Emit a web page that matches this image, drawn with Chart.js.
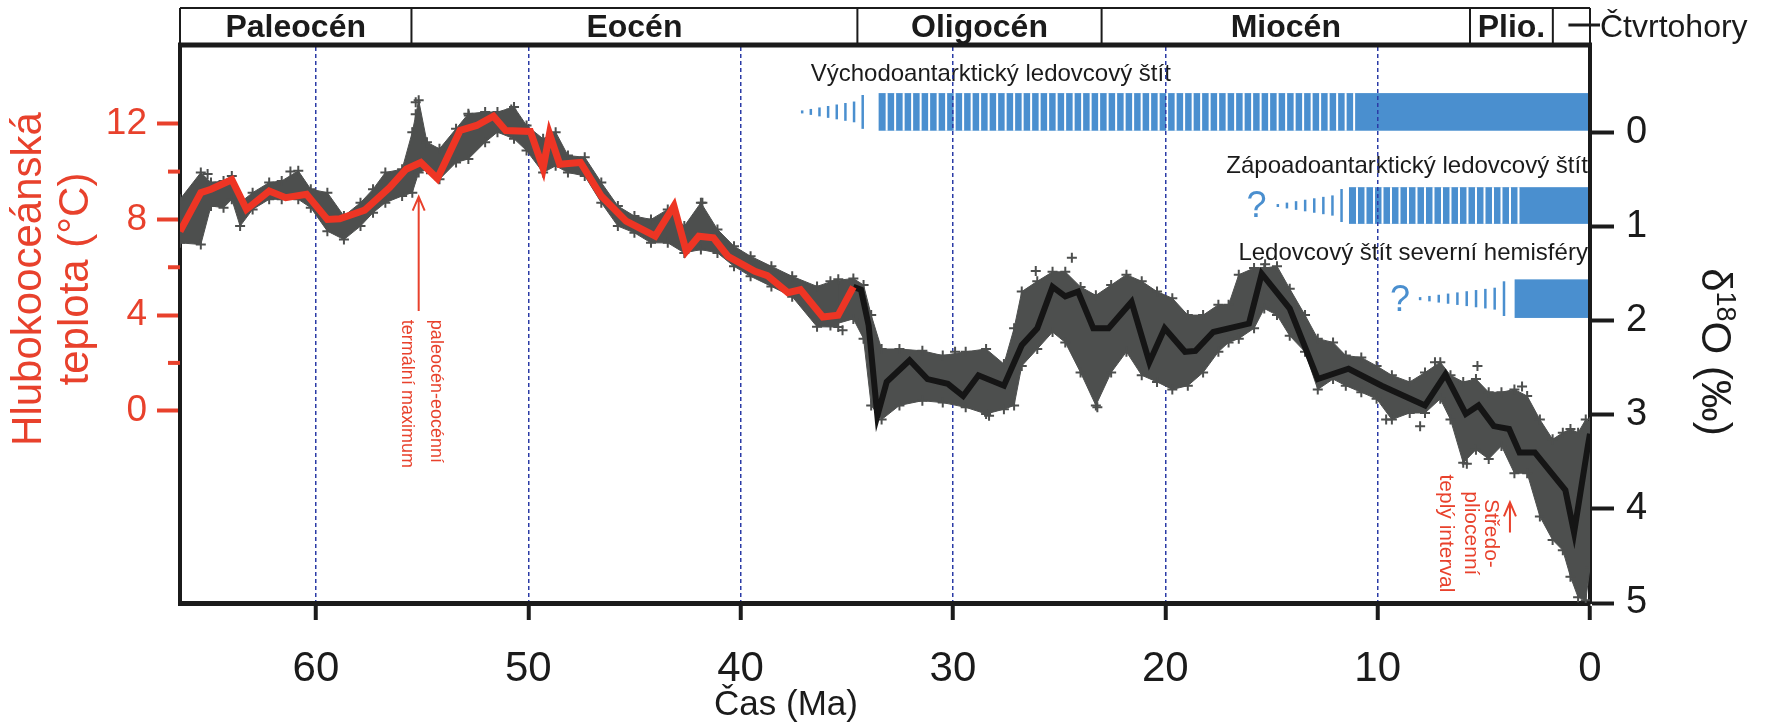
<!DOCTYPE html>
<html><head><meta charset="utf-8">
<script src="https://cdn.jsdelivr.net/npm/chart.js@4.4.0/dist/chart.umd.min.js"></script>
<style>html,body{margin:0;padding:0;background:#fff;overflow:hidden}</style>
</head><body>
<canvas id="c" width="1768" height="726"></canvas>
<script>
// ---------- data ----------
const xTicks = [0, 10, 20, 30, 40, 50, 60];
const tempTicks = [0, 2, 4, 6, 8, 10, 12];
const d18OTicks = [0, 1, 2, 3, 4, 5];

// red: deep-ocean temperature (°C), left axis
const redAge  = [66.4,65.42,64.94,63.96,63.27,62.2,61.42,60.44,59.46,58.88,57.7,56.53,55.75,55.06,54.28,53.21,52.43,51.64,51.06,49.9,49.3,49.0,48.52,47.54,46.56,45.39,44.02,43.14,42.56,41.97,41.28,40.6,39.33,38.74,37.77,37.18,36.13,35.41,34.69];
const redTemp = [7.5,9.12,9.26,9.66,8.42,9.19,8.91,9.05,8.0,8.03,8.39,9.33,10.1,10.38,9.71,11.72,11.93,12.32,11.72,11.68,10.13,11.58,10.31,10.38,8.98,7.93,7.3,8.56,6.67,7.3,7.23,6.46,5.83,5.65,4.94,5.06,3.92,3.99,5.18];

// black: smoothed δ18O (‰), right axis
const blackAge  = [34.69,34.33,33.97,33.56,33.12,32.04,31.2,30.24,29.52,28.8,27.6,26.76,26.03,25.31,24.71,24.11,23.39,22.67,21.59,20.75,20.03,19.07,18.58,17.74,16.06,15.46,14.14,12.82,11.37,9.81,7.77,6.81,5.85,5.25,4.53,3.81,3.32,2.6,1.16,0.75,0.1,0];
const blackD18O = [1.64,1.67,2.05,3.01,2.65,2.42,2.62,2.67,2.8,2.58,2.69,2.26,2.08,1.64,1.74,1.69,2.08,2.08,1.8,2.44,2.08,2.33,2.32,2.12,2.03,1.5,1.87,2.62,2.51,2.69,2.9,2.57,2.99,2.9,3.12,3.15,3.4,3.4,3.8,4.25,3.33,3.2];

// grey cloud of individual measurements: upper / lower edges
const grayEarlyAge = [66.4,65.42,64.94,64.35,63.96,63.57,62.98,62.2,61.61,60.83,60.24,59.46,58.68,57.9,57.31,56.73,55.94,55.46,55.16,54.77,54.18,53.4,52.82,52.03,51.45,50.67,50.08,49.3,48.71,48.13,47.34,46.56,45.78,45.0,44.22,43.43,42.65,41.87,41.09,40.31,39.53,38.55,37.57,36.4,35.4];
const grayEarlyHi  = [8.84,9.96,9.54,9.61,9.82,8.7,9.12,9.54,9.61,10.03,9.26,9.12,8.14,8.7,9.26,9.96,10.1,11.65,12.98,11.23,10.95,11.79,12.42,12.49,12.49,12.7,11.93,11.37,11.65,10.67,10.6,9.54,8.56,8.14,8.0,8.42,7.72,8.7,7.58,6.88,6.46,6.04,5.62,5.2,5.5];
const grayEarlyLo  = [7.02,6.95,8.56,8.49,8.84,7.72,8.42,8.84,8.84,8.84,8.49,7.51,7.16,7.72,8.28,8.7,8.98,9.12,9.96,10.1,9.68,10.38,10.53,11.23,11.65,11.37,10.88,9.96,10.24,9.96,9.82,8.7,7.72,7.44,7.02,7.02,6.6,6.74,6.6,6.04,5.62,5.2,4.77,3.51,3.5];

const grayLateAge = [35.77,34.69,34.21,33.85,33.36,32.52,31.44,30.48,29.4,28.44,27.6,27.12,26.76,26.03,25.31,24.71,23.99,23.27,22.55,21.83,21.11,20.39,19.67,18.94,18.22,17.5,17.02,16.54,15.82,15.34,14.74,14.14,13.42,12.82,12.1,11.5,10.77,10.05,9.33,8.49,7.77,7.05,6.57,5.97,5.37,4.77,4.17,3.56,2.96,2.36,1.76,1.28,0.92,0.56,0.2,0];
const grayLateHi  = [1.58,1.55,1.62,1.94,2.3,2.3,2.32,2.37,2.33,2.3,2.46,2.08,1.69,1.58,1.48,1.48,1.64,1.73,1.62,1.51,1.58,1.69,1.76,1.94,1.94,1.83,1.83,1.51,1.44,1.44,1.42,1.66,1.94,2.19,2.23,2.37,2.39,2.48,2.58,2.65,2.55,2.44,2.58,2.65,2.62,2.76,2.76,2.73,2.8,3.05,3.26,3.19,3.15,3.19,3.05,3.08];
const grayLateLo  = [2.05,1.98,2.19,2.9,3.05,2.9,2.85,2.87,2.92,2.99,2.94,2.9,2.48,2.3,2.12,2.23,2.55,2.9,2.55,2.33,2.58,2.65,2.73,2.69,2.55,2.33,2.23,2.19,2.08,1.87,1.94,2.16,2.33,2.73,2.62,2.69,2.76,2.83,3.05,2.98,2.98,2.83,3.05,3.51,3.37,3.47,3.33,3.62,3.62,4.08,4.33,4.44,4.72,4.94,4.97,4.62];

// isolated grey crosses
const outAgeT = [65.1,61.2,55.3,55.3,55.25,50.8,41.8,52.8];
const outTemp = [9.9,10.0,12.9,12.4,11.8,12.6,8.7,12.35];
const outAgeD = [26.1,24.4,23.2,28.3,29.9,9.6,8.0,7.3,5.3,3.2,5.8,15.3,35.2];
const outD18O = [1.47,1.33,2.92,3.01,2.33,3.05,3.12,2.44,2.48,2.7,3.52,1.4,2.1];

// epochs (top band)
const epochNames  = ['Paleocén', 'Eocén', 'Oligocén', 'Miocén', 'Plio.', ''];
const epochBounds = [66.4, 55.5, 34.5, 23.0, 5.65, 1.75, 0];
const quaternaryLabel = 'Čtvrtohory';

// ice sheets
const iceLabels     = ['Východoantarktický ledovcový štít', 'Zápoadoantarktický ledovcový štít', 'Ledovcový štít severní hemisféry'];
const iceLabelAge   = [36.7, 0.1, 0.1];
const iceLabelD18O  = [-0.62, 0.36, 1.28];
const iceFadeStart  = [37.1, 14.7, 8.0];
const iceFadeEnd    = [34.25, 11.7, 4.05];
const iceHatchStart = [33.5, 11.35, 3.55];
const iceSolidStart = [10.75, 3.2, 3.55];
const iceTop        = [-0.42, 0.58, 1.56];
const iceBottom     = [-0.02, 0.97, 1.97];
const iceQuestionAge = [null, 15.7, 8.95];

// annotations
const petmLines = ['paleocén-eocénní', 'termální maximum'];
const petmLineAge = [54.36, 55.72];
const petmTextTemp = 3.8;
const petmArrowAge = 55.16, petmArrowTip = 8.95, petmArrowTail = 4.17;
const mpwpLines = ['Středo-', 'pliocenní', 'teplý interval'];
const mpwpLineAge = [4.66, 5.6, 6.78];
const mpwpTextD18O = 4.26;
const mpwpArrowAge = 3.77, mpwpArrowTip = 3.93, mpwpArrowTail = 4.25;

// ---------- styling ----------
const FONT = "'Liberation Sans', Arial, Helvetica, sans-serif";
const RED = '#e8412c';
const LINE_RED = '#ee3524';
const GRAY = '#4d4f4e';
const BLUE = '#4a8fcf';
const GRID_BLUE = '#2b3ba6';
const INK = '#1b1b1b';

const xy = (xs, ys) => xs.map((x, i) => ({x: x, y: ys[i]}));

function arrowUp(ctx, x, yTip, yTail, color) {
  ctx.save();
  ctx.strokeStyle = color; ctx.lineWidth = 2;
  ctx.beginPath();
  ctx.moveTo(x, yTail); ctx.lineTo(x, yTip);
  ctx.moveTo(x - 6, yTip + 14); ctx.lineTo(x, yTip); ctx.lineTo(x + 6, yTip + 14);
  ctx.stroke();
  ctx.restore();
}

const decor = {
  id: 'decor',
  beforeDraw(chart) {
    const {ctx, scales: {x, yD}} = chart;
    const xr = x.getPixelForValue(0);
    ctx.save();
    for (let i = 0; i < iceLabels.length; i++) {
      const yt = yD.getPixelForValue(iceTop[i]), yb = yD.getPixelForValue(iceBottom[i]);
      const h = yb - yt, ym = (yt + yb) / 2;
      // fading ticks
      const xs = x.getPixelForValue(iceFadeStart[i]), xe = x.getPixelForValue(iceFadeEnd[i]);
      const n = Math.max(3, Math.round((xe - xs) / 9));
      ctx.strokeStyle = BLUE; ctx.lineWidth = 2.5;
      for (let k = 0; k <= n; k++) {
        const px = xs + (xe - xs) * k / n;
        const f = (k === n) ? 0.9 : 0.08 + 0.55 * k / n;
        ctx.beginPath(); ctx.moveTo(px, ym - h * f / 2); ctx.lineTo(px, ym + h * f / 2); ctx.stroke();
      }
      // bar
      const xh = x.getPixelForValue(iceHatchStart[i]), xsol = x.getPixelForValue(iceSolidStart[i]);
      ctx.fillStyle = BLUE; ctx.fillRect(xh, yt, xr - xh, h);
      ctx.fillStyle = '#ffffff';
      for (let px = xh + 7; px < xsol - 2; px += 8.5) ctx.fillRect(px, yt, 2, h);
      // label
      ctx.fillStyle = INK; ctx.font = `24px ${FONT}`; ctx.textBaseline = 'middle';
      ctx.textAlign = i === 0 ? 'left' : 'right';
      ctx.fillText(iceLabels[i], x.getPixelForValue(iceLabelAge[i]), yD.getPixelForValue(iceLabelD18O[i]));
      if (iceQuestionAge[i] !== null) {
        ctx.fillStyle = BLUE; ctx.font = `36px ${FONT}`; ctx.textAlign = 'center';
        ctx.fillText('?', x.getPixelForValue(iceQuestionAge[i]), ym + 2);
      }
    }
    ctx.restore();
  },
  afterDraw(chart) {
    const {ctx, chartArea: ca, scales: {x, yT, yD}} = chart;
    ctx.save();
    // minor red ticks on temperature axis
    ctx.strokeStyle = RED; ctx.lineWidth = 4;
    tempTicks.filter(v => v % 4 !== 0).forEach(v => {
      const y = yT.getPixelForValue(v);
      ctx.beginPath(); ctx.moveTo(ca.left - 12, y); ctx.lineTo(ca.left, y); ctx.stroke();
    });
    // epoch band
    const top = 8, bot = ca.top - 2;
    ctx.strokeStyle = INK; ctx.lineWidth = 2;
    ctx.beginPath(); ctx.moveTo(ca.left, top); ctx.lineTo(ca.right, top); ctx.stroke();
    for (let i = 0; i < epochBounds.length; i++) {
      const px = x.getPixelForValue(epochBounds[i]);
      ctx.beginPath(); ctx.moveTo(px, top); ctx.lineTo(px, bot); ctx.stroke();
    }
    ctx.lineWidth = 5;
    ctx.beginPath(); ctx.moveTo(ca.left - 2, bot); ctx.lineTo(ca.right + 2, bot); ctx.stroke();
    ctx.fillStyle = INK; ctx.font = `bold 32px ${FONT}`; ctx.textAlign = 'center'; ctx.textBaseline = 'alphabetic';
    for (let i = 0; i < epochNames.length; i++) {
      const cx = (x.getPixelForValue(epochBounds[i]) + x.getPixelForValue(epochBounds[i + 1])) / 2;
      if (epochNames[i]) ctx.fillText(epochNames[i], cx, 37);
    }
    // Quaternary pointer
    const qx = (x.getPixelForValue(epochBounds[5]) + x.getPixelForValue(0)) / 2;
    ctx.lineWidth = 3;
    ctx.beginPath(); ctx.moveTo(qx - 3, 25); ctx.lineTo(ca.right + 10, 25); ctx.stroke();
    ctx.font = `32px ${FONT}`; ctx.textAlign = 'left';
    ctx.fillText(quaternaryLabel, ca.right + 10, 37);

    // axis titles
    ctx.fillStyle = RED; ctx.font = `42px ${FONT}`; ctx.textAlign = 'center'; ctx.textBaseline = 'middle';
    ctx.save(); ctx.translate(29, 279); ctx.rotate(-Math.PI / 2);
    ctx.fillText('Hlubokooceánská', 0, 0); ctx.restore();
    ctx.save(); ctx.translate(76, 279); ctx.rotate(-Math.PI / 2);
    ctx.fillText('teplota (°C)', 0, 0); ctx.restore();

    ctx.fillStyle = INK;
    ctx.font = `35px ${FONT}`;
    ctx.fillText('Čas (Ma)', 786, 705);

    // δ18O (‰)
    ctx.save(); ctx.translate(1714, 352); ctx.rotate(Math.PI / 2);
    const big = `42px ${FONT}`, sup = `27px ${FONT}`;
    ctx.font = big; const w1 = ctx.measureText('δ').width, w3 = ctx.measureText('O (‰)').width;
    ctx.font = sup; const w2 = ctx.measureText('18').width;
    let sx = -(w1 + w2 + w3) / 2;
    ctx.textAlign = 'left';
    ctx.font = big; ctx.fillText('δ', sx, 0); sx += w1;
    ctx.font = sup; ctx.fillText('18', sx, -10); sx += w2;
    ctx.font = big; ctx.fillText('O (‰)', sx, 0);
    ctx.restore();

    // annotations
    ctx.fillStyle = RED; ctx.textAlign = 'left'; ctx.textBaseline = 'middle';
    ctx.font = `18px ${FONT}`;
    petmLines.forEach((t, i) => {
      ctx.save(); ctx.translate(x.getPixelForValue(petmLineAge[i]), yT.getPixelForValue(petmTextTemp));
      ctx.rotate(Math.PI / 2); ctx.fillText(t, 0, 0); ctx.restore();
    });
    arrowUp(ctx, x.getPixelForValue(petmArrowAge), yT.getPixelForValue(petmArrowTip), yT.getPixelForValue(petmArrowTail), RED);
    ctx.font = `21px ${FONT}`; ctx.textAlign = 'center';
    mpwpLines.forEach((t, i) => {
      ctx.save(); ctx.translate(x.getPixelForValue(mpwpLineAge[i]), yD.getPixelForValue(mpwpTextD18O));
      ctx.rotate(Math.PI / 2); ctx.fillText(t, 0, 0); ctx.restore();
    });
    arrowUp(ctx, x.getPixelForValue(mpwpArrowAge), yD.getPixelForValue(mpwpArrowTip), yD.getPixelForValue(mpwpArrowTail), RED);
    ctx.restore();
  }
};

const crossPts = {pointStyle: 'cross', pointRadius: 5, pointBorderWidth: 2, pointBorderColor: GRAY, pointBackgroundColor: GRAY};

new Chart(document.getElementById('c'), {
  type: 'line',
  data: {
    datasets: [
      {data: xy(redAge, redTemp), yAxisID: 'yT', borderColor: LINE_RED, borderWidth: 7, pointRadius: 0, tension: 0, order: 0},
      {data: xy(blackAge, blackD18O), yAxisID: 'yD', borderColor: '#151515', borderWidth: 6, pointRadius: 0, tension: 0, order: 1},
      Object.assign({data: xy(grayEarlyAge, grayEarlyHi), yAxisID: 'yT', borderColor: GRAY, borderWidth: 1, fill: false, order: 5}, crossPts),
      Object.assign({data: xy(grayEarlyAge, grayEarlyLo), yAxisID: 'yT', borderColor: GRAY, borderWidth: 1, fill: '-1', backgroundColor: GRAY, order: 5}, crossPts),
      Object.assign({data: xy(grayLateAge, grayLateHi), yAxisID: 'yD', borderColor: GRAY, borderWidth: 1, fill: false, order: 5}, crossPts),
      Object.assign({data: xy(grayLateAge, grayLateLo), yAxisID: 'yD', borderColor: GRAY, borderWidth: 1, fill: '-1', backgroundColor: GRAY, order: 5}, crossPts),
      Object.assign({data: xy(outAgeT, outTemp), yAxisID: 'yT', showLine: false, order: 6}, crossPts),
      Object.assign({data: xy(outAgeD, outD18O), yAxisID: 'yD', showLine: false, order: 6}, crossPts)
    ]
  },
  options: {
    responsive: false,
    animation: false,
    events: [],
    layout: {padding: {top: 47, left: 0, right: 0, bottom: 0}},
    plugins: {legend: {display: false}, tooltip: {enabled: false}},
    scales: {
      x: {
        type: 'linear', reverse: true, min: 0, max: 66.4,
        afterFit: s => { s.height = 123; },
        afterBuildTicks: s => { s.ticks = xTicks.map(v => ({value: v})); },
        ticks: {color: INK, font: {family: FONT, size: 42}, padding: 24, maxRotation: 0, autoSkip: false, callback: v => String(v)},
        grid: {
          color: c => (c.tick && c.tick.value > 0) ? GRID_BLUE : 'rgba(0,0,0,0)',
          lineWidth: 1.5, tickLength: 17, tickWidth: 4, tickColor: INK, tickBorderDash: []
        },
        border: {display: true, color: INK, width: 5, dash: [4, 3]}
      },
      yT: {
        type: 'linear', position: 'left', min: -8.04, max: 15.21,
        afterFit: s => { s.width = 180; },
        afterBuildTicks: s => { s.ticks = tempTicks.map(v => ({value: v})); },
        ticks: {color: RED, font: {family: FONT, size: 37}, padding: 10, autoSkip: false, callback: v => (v % 4 === 0 ? String(v) : '')},
        grid: {drawOnChartArea: false, tickLength: 23, tickWidth: 4, tickColor: c => (c.tick && c.tick.value % 4 === 0) ? RED : 'rgba(0,0,0,0)'},
        border: {display: true, color: INK, width: 4}
      },
      yD: {
        type: 'linear', position: 'right', reverse: true, min: -0.91, max: 5.0,
        afterFit: s => { s.width = 178; },
        afterBuildTicks: s => { s.ticks = d18OTicks.map(v => ({value: v})); },
        ticks: {color: INK, font: {family: FONT, size: 38}, padding: 12, autoSkip: false},
        grid: {drawOnChartArea: false, tickLength: 24, tickWidth: 4, tickColor: INK},
        border: {display: true, color: INK, width: 4}
      }
    }
  },
  plugins: [decor]
});
</script>
</body></html>
